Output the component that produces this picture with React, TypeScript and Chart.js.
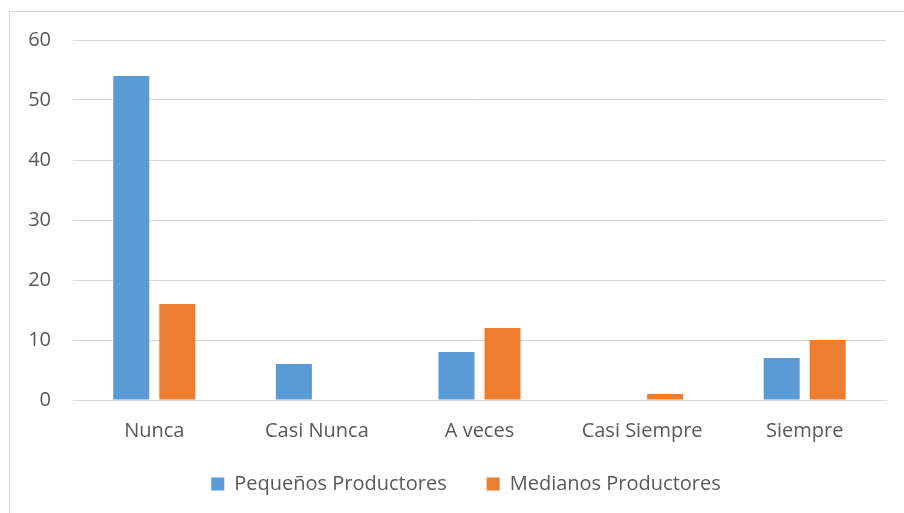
import React, { useEffect, useRef } from "react";
import { Chart, registerables } from "chart.js";

Chart.register(...registerables);

const categories = ["Nunca", "Casi Nunca", "A veces", "Casi Siempre", "Siempre"];
const pequenos = [54, 6, 8, 0, 7];
const medianos = [16, 0, 12, 1, 10];
const seriesNames = ["Pequeños Productores", "Medianos Productores"];

const legendShift = {
  id: "legendShift",
  afterLayout(chart: any) {
    const lg = chart.legend;
    if (!lg) return;
    const h = lg.height;
    lg.top = 434;
    lg.bottom = 434 + h;
    lg.left += 23;
    lg.right += 23;
  },
};

export default function App() {
  const ref = useRef<HTMLCanvasElement | null>(null);
  useEffect(() => {
    if (!ref.current) return;
    const font = { family: "'Open Sans', sans-serif", size: 20 };
    const chart = new Chart(ref.current, {
      type: "bar",
      data: {
        labels: categories,
        datasets: [
          { label: seriesNames[0], data: pequenos, backgroundColor: "#5B9BD5", categoryPercentage: 0.566, barPercentage: 0.783 },
          { label: seriesNames[1], data: medianos, backgroundColor: "#ED7D31", categoryPercentage: 0.566, barPercentage: 0.783 },
        ],
      },
      plugins: [legendShift],
      options: {
        animation: false,
        responsive: false,
        maintainAspectRatio: false,
        layout: { padding: { left: 0, right: 18, top: 40, bottom: -19 } },
        plugins: {
          tooltip: { enabled: false },
          legend: {
            position: "bottom",
            labels: { font, color: "#595959", boxWidth: 13, boxHeight: 13, padding: 40 },
          },
        },
        scales: {
          x: {
            grid: { display: false, drawTicks: false },
            border: { display: true, color: "#d9d9d9", width: 1 },
            ticks: { font, color: "#595959", padding: 19 },
          },
          y: {
            min: 0,
            max: 60,
            ticks: { stepSize: 10, font, color: "#595959", padding: 22 },
            grid: { color: "#d9d9d9", drawTicks: false },
            border: { display: false },
            afterFit: (s: any) => { s.width = 73; },
          },
        },
      },
    });
    return () => chart.destroy();
  }, []);
  return (
    <div style={{ position: "fixed", left: 0, top: 0, width: 904, height: 513, background: "#fff", overflow: "hidden" }}>
      <div style={{ position: "absolute", left: 9, top: 11, width: 1000, height: 1000, borderLeft: "1px solid #d9d9d9", borderTop: "1px solid #d9d9d9" }} />
      <canvas ref={ref} width={904} height={513} style={{ position: "absolute", left: 0, top: 0 }} />
    </div>
  );
}
